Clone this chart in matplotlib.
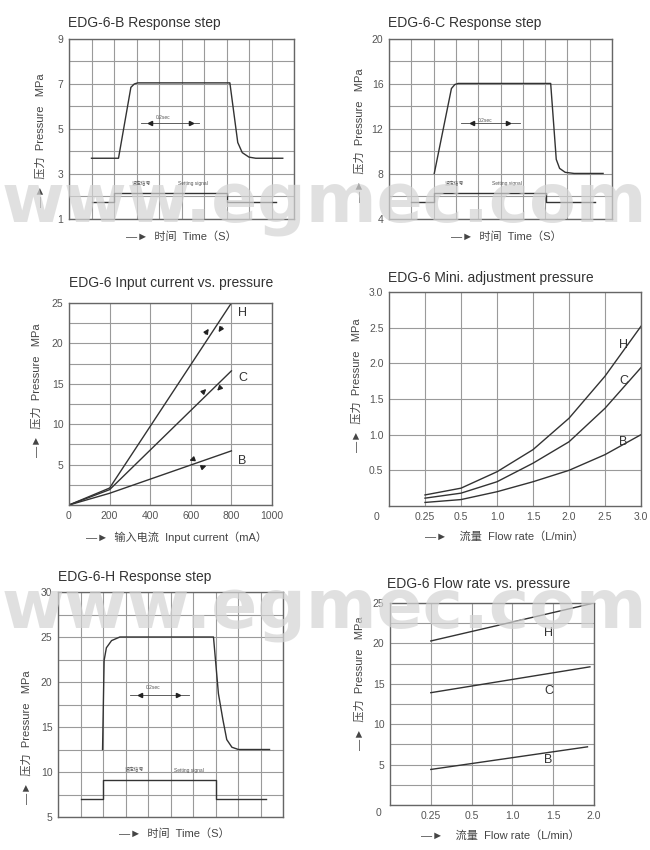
import numpy as np
import matplotlib
matplotlib.use("Agg")
import matplotlib.pyplot as plt

plt.rcParams['font.family'] = ['Liberation Sans', 'Noto Sans CJK SC', 'DejaVu Sans']

# ---------------- data ----------------
# step responses, time in grid divisions (0..10)
b_time = [1.0, 2.2, 2.75, 2.9, 3.05, 7.15, 7.5, 7.7, 8.0, 8.3, 9.5]
b_press = [3.7, 3.7, 6.85, 7.0, 7.05, 7.05, 4.4, 3.95, 3.75, 3.7, 3.7]
b_sig_time = [1.0, 2.0, 2.0, 7.0, 7.0, 9.2]
b_sig = [1.77, 1.77, 2.17, 2.17, 1.77, 1.77]

c_time = [2.03, 2.8, 2.95, 3.1, 7.25, 7.5, 7.65, 7.9, 8.3, 9.6]
c_press = [8.05, 15.6, 15.95, 16.05, 16.05, 9.3, 8.5, 8.15, 8.05, 8.05]
c_sig_time = [1.0, 2.03, 2.03, 7.05, 7.05, 9.25]
c_sig = [5.55, 5.55, 6.35, 6.35, 5.55, 5.55]

h_time = [1.98, 2.05, 2.15, 2.38, 2.75, 6.91, 7.13, 7.33, 7.5, 7.73, 8.02, 9.4]
h_press = [12.5, 22.4, 23.8, 24.6, 25.0, 25.0, 18.7, 15.8, 13.6, 12.75, 12.5, 12.5]
h_sig_time = [1.04, 2.0, 2.0, 7.03, 7.03, 9.26]
h_sig = [7.0, 7.0, 9.15, 9.15, 7.0, 7.0]

# input current vs pressure
current = [0, 200, 800]
cur_h = [0, 2.1, 25.0]
cur_c = [0, 1.9, 16.6]
cur_b = [0, 1.45, 6.7]

# mini adjustment pressure
flow_ticks4 = [0, 0.25, 0.5, 1.0, 1.5, 2.0, 2.5, 3.0]
flow4 = [0.25, 0.5, 1.0, 1.5, 2.0, 2.5, 3.0]
mini_h = [0.155, 0.25, 0.48, 0.79, 1.23, 1.82, 2.52]
mini_c = [0.11, 0.18, 0.34, 0.60, 0.90, 1.37, 1.94]
mini_b = [0.05, 0.09, 0.20, 0.34, 0.50, 0.72, 1.00]

# flow rate vs pressure
flow_ticks6 = [0, 0.25, 0.5, 1.0, 1.5, 2.0]
fr_h_x, fr_h = [0.25, 1.96], [20.3, 24.9]
fr_c_x, fr_c = [0.25, 1.95], [13.9, 17.1]
fr_b_x, fr_b = [0.25, 1.92], [4.4, 7.2]

LINE = '#333333'
GRID = '#9a9a9a'

fig = plt.figure(figsize=(6.5, 8.5), dpi=100)


def add_ax(l, t, r, b):
    return fig.add_axes([l / 650, 1 - b / 850, (r - l) / 650, (b - t) / 850])


def ftext(x, y, s, **kw):
    kw.setdefault('color', '#444444')
    fig.text(x / 650, 1 - y / 850, s, **kw)


def style(ax):
    for s in ax.spines.values():
        s.set_color('#666666')
        s.set_linewidth(1.0)
    ax.tick_params(which='both', length=0, labelsize=7.5, labelcolor='#555555', pad=4)
    ax.grid(True, which='both', color=GRID, lw=0.8)
    ax.set_axisbelow(True)


def piecewise(ticks):
    pos = np.arange(len(ticks), dtype=float)
    fwd = lambda v: np.interp(v, ticks, pos)
    inv = lambda p: np.interp(p, pos, ticks)
    return fwd, inv


def step_panel(ax, ymin, ymax, ystep, ylab_step, t, p, st, s, note, sigtxt):
    style(ax)
    ax.set_xlim(0, 10)
    ax.set_xticks(range(11))
    ax.set_xticklabels([])
    ax.set_ylim(ymin, ymax)
    ax.set_yticks(np.arange(ymin, ymax + 0.01, ylab_step))
    ax.set_yticks(np.arange(ymin, ymax + 0.01, ystep), minor=True)
    ax.plot(t, p, color=LINE, lw=1.0)
    ax.plot(st, s, color=LINE, lw=1.0)
    tx, ty, lx0, lx1, ly, a0, a1 = note
    ax.text(tx, ty, '0.2sec', fontsize=3.5, ha='center', va='center', color='#555555')
    ax.plot([lx0, lx1], [ly, ly], color='#444444', lw=0.6)
    ax.plot([a0], [ly], marker='<', ms=3, color='#222222')
    ax.plot([a1], [ly], marker='>', ms=3, color='#222222')
    cx, ex, sy = sigtxt
    ax.text(cx, sy, '设定信号', fontsize=3.5, ha='center', va='center', color='#555555')
    ax.text(ex, sy, 'Setting signal', fontsize=3.5, ha='center', va='center', color='#555555')


# ---- EDG-6-B ----
ax1 = add_ax(69, 39, 294, 219)
step_panel(ax1, 1, 9, 1, 2, b_time, b_press, b_sig_time, b_sig,
           (4.19, 5.52, 3.22, 5.77, 5.25, 3.6, 5.44), (3.22, 5.49, 2.59))
ftext(68, 23, 'EDG-6-B Response step', fontsize=10, va='center', color='#333333')
ftext(41, 140, '—►  压力  Pressure   MPa', fontsize=8, rotation=90, ha='center', va='center')
ftext(181, 237, '—►  时间  Time（S）', fontsize=8, ha='center', va='center')

# ---- EDG-6-C ----
ax2 = add_ax(389, 39, 612, 219)
step_panel(ax2, 4, 20, 2, 4, c_time, c_press, c_sig_time, c_sig,
           (4.3, 12.75, 3.25, 5.87, 12.5, 3.7, 5.34), (2.95, 5.27, 7.18))
ftext(388, 23, 'EDG-6-C Response step', fontsize=10, va='center', color='#333333')
ftext(360, 135, '—►  压力  Pressure   MPa', fontsize=8, rotation=90, ha='center', va='center')
ftext(506, 237, '—►  时间  Time（S）', fontsize=8, ha='center', va='center')

# ---- EDG-6 input current vs pressure ----
ax3 = add_ax(69, 303, 272, 505)
style(ax3)
ax3.set_xlim(0, 1000)
ax3.set_xticks(range(0, 1001, 200))
ax3.set_ylim(0, 25)
ax3.set_yticks([5, 10, 15, 20, 25])
ax3.set_yticks(np.arange(0, 25.01, 2.5), minor=True)
ax3.plot(current, cur_h, color=LINE, lw=1.0)
ax3.plot(current, cur_c, color=LINE, lw=1.0)
ax3.plot(current, cur_b, color=LINE, lw=1.0)
for name, y in zip(['H', 'C', 'B'], [23.8, 15.7, 5.5]):
    ax3.text(832, y, name, fontsize=9, va='center', color='#333333')
arrow_starts = [(664, 20.9), (761, 22.3), (654, 13.8), (752, 14.7), (630, 5.83), (640, 4.52)]
arrow_ends = [(696, 22.1), (729, 21.1), (686, 14.6), (720, 13.9), (580, 5.37), (690, 4.98)]
for a, b in zip(arrow_starts, arrow_ends):
    ax3.annotate('', xy=b, xytext=a,
                 arrowprops=dict(arrowstyle='-|>', color='#222222', lw=1.0, mutation_scale=7))
ftext(69, 283, 'EDG-6 Input current vs. pressure', fontsize=10, va='center', color='#333333')
ftext(37, 390, '—►  压力  Pressure   MPa', fontsize=8, rotation=90, ha='center', va='center')
ftext(177, 537, '—►  输入电流  Input current（mA）', fontsize=8, ha='center', va='center')

# ---- EDG-6 mini adjustment pressure ----
ax4 = add_ax(389, 292, 641, 506)
style(ax4)
ax4.set_xscale('function', functions=piecewise(flow_ticks4))
ax4.set_xlim(0, 3.0)
ax4.set_xticks(flow_ticks4[1:])
ax4.set_xticklabels(['0.25', '0.5', '1.0', '1.5', '2.0', '2.5', '3.0'])
ax4.set_ylim(0, 3.0)
ax4.set_yticks([0.5, 1.0, 1.5, 2.0, 2.5, 3.0])
ax4.set_yticklabels(['0.5', '1.0', '1.5', '2.0', '2.5', '3.0'])
ax4.plot(flow4, mini_h, color=LINE, lw=1.0)
ax4.plot(flow4, mini_c, color=LINE, lw=1.0)
ax4.plot(flow4, mini_b, color=LINE, lw=1.0)
for name, y in zip(['H', 'C', 'B'], [2.26, 1.75, 0.9]):
    ax4.text(2.7, y, name, fontsize=9, va='center', color='#333333')
ftext(377, 517, '0', fontsize=7.5, ha='center', va='center', color='#555555')
ftext(388, 278, 'EDG-6 Mini. adjustment pressure', fontsize=10, va='center', color='#333333')
ftext(357, 385, '—►  压力  Pressure   MPa', fontsize=8, rotation=90, ha='center', va='center')
ftext(504, 537, '—►    流量  Flow rate（L/min）', fontsize=8, ha='center', va='center')

# ---- EDG-6-H ----
ax5 = add_ax(58, 592, 283, 817)
step_panel(ax5, 5, 30, 2.5, 5, h_time, h_press, h_sig_time, h_sig,
           (4.23, 19.4, 3.2, 5.8, 18.6, 3.64, 5.35), (3.42, 5.8, 10.2))
ftext(58, 577, 'EDG-6-H Response step', fontsize=10, va='center', color='#333333')
ftext(27, 737, '—►  压力  Pressure   MPa', fontsize=8, rotation=90, ha='center', va='center')
ftext(174, 834, '—►  时间  Time（S）', fontsize=8, ha='center', va='center')

# ---- EDG-6 flow rate vs pressure ----
ax6 = add_ax(390, 603, 594, 805)
style(ax6)
ax6.set_xscale('function', functions=piecewise(flow_ticks6))
ax6.set_xlim(0, 2.0)
ax6.set_xticks(flow_ticks6[1:])
ax6.set_xticklabels(['0.25', '0.5', '1.0', '1.5', '2.0'])
ax6.set_ylim(0, 25)
ax6.set_yticks([5, 10, 15, 20, 25])
ax6.set_yticks(np.arange(0, 25.01, 2.5), minor=True)
ax6.plot(fr_h_x, fr_h, color=LINE, lw=1.0)
ax6.plot(fr_c_x, fr_c, color=LINE, lw=1.0)
ax6.plot(fr_b_x, fr_b, color=LINE, lw=1.0)
for name, y in zip(['H', 'C', 'B'], [21.3, 14.1, 5.6]):
    ax6.text(1.39, y, name, fontsize=9, va='center', color='#333333')
ftext(378, 813, '0', fontsize=7.5, ha='center', va='center', color='#555555')
ftext(387, 584, 'EDG-6 Flow rate vs. pressure', fontsize=10, va='center', color='#333333')
ftext(360, 683, '—►  压力  Pressure   MPa', fontsize=8, rotation=90, ha='center', va='center')
ftext(500, 836, '—►    流量  Flow rate（L/min）', fontsize=8, ha='center', va='center')

# watermark
for y in [221, 627]:
    fig.text(324 / 650, 1 - y / 850, 'www.egmec.com', fontsize=49, fontweight='bold',
             family='DejaVu Sans', color='#d4d4d4', alpha=0.7, ha='center',
             va='baseline', zorder=10)

fig.savefig('out.png', dpi=100)
